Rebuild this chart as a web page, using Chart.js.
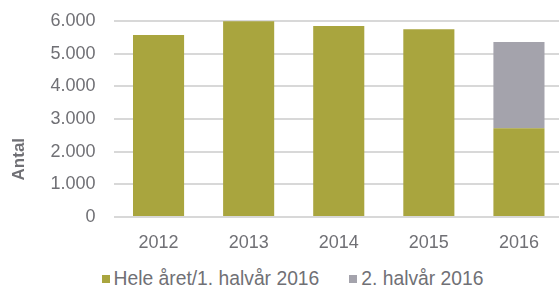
<!DOCTYPE html>
<html>
<head>
<meta charset="utf-8">
<script src="https://cdn.jsdelivr.net/npm/chart.js@4/dist/chart.umd.min.js"></script>
<style>
  html, body { margin: 0; padding: 0; background: #fff; overflow: hidden; }
  #wrap { width: 566px; height: 250px; }
  #legend {
    width: 559px;
    height: 39px;
    display: flex;
    justify-content: center;
    align-items: center;
    padding-left: 26px;
    padding-top: 18px;
    box-sizing: border-box;
    font-family: "Liberation Sans", sans-serif;
    font-size: 19.3px;
    color: #707075;
    line-height: 20px;
  }
  #legend .item { display: flex; align-items: center; margin: 0 15px; white-space: nowrap; }
  #legend .box { width: 8px; height: 8px; margin-right: 4px; }
</style>
</head>
<body>
<div id="wrap"><canvas id="chart"></canvas></div>
<div id="legend"></div>
<script>
// chart data
const years = ["2012", "2013", "2014", "2015", "2016"];
const firstPart = [5570, 5990, 5850, 5750, 2720];
const secondPart = [0, 0, 0, 0, 2640];
const yTickLabels = ["0", "1.000", "2.000", "3.000", "4.000", "5.000", "6.000"];
const seriesNames = ["Hele året/1. halvår 2016", "2. halvår 2016"];
const yTitle = "Antal";

const olive = "#a9a53e";
const grey = "#a4a3ac";
const textGrey = "#707075";
const fontFamily = "Liberation Sans";

// y title sits a bit below the axis middle in the original, so draw it by hand
const yTitlePlugin = {
  id: "yTitle",
  afterDraw(chart) {
    const c = chart.ctx;
    const area = chart.chartArea;
    c.save();
    c.translate(19, area.top + (area.bottom - area.top) * 0.705);
    c.rotate(-Math.PI / 2);
    c.fillStyle = textGrey;
    c.font = "bold 17px " + fontFamily;
    c.textAlign = "center";
    c.textBaseline = "middle";
    c.fillText(yTitle, 0, 0);
    c.restore();
  }
};

const ctx = document.getElementById("chart").getContext("2d");

const chart = new Chart(ctx, {
  type: "bar",
  data: {
    labels: years,
    datasets: [
      {
        label: seriesNames[0],
        data: firstPart,
        backgroundColor: olive,
        barPercentage: 0.567,
        categoryPercentage: 1.0
      },
      {
        label: seriesNames[1],
        data: secondPart,
        backgroundColor: grey,
        barPercentage: 0.567,
        categoryPercentage: 1.0
      }
    ]
  },
  plugins: [yTitlePlugin],
  options: {
    responsive: true,
    maintainAspectRatio: false,
    animation: false,
    layout: { padding: { top: 0, right: 2, bottom: 0, left: 0 } },
    plugins: {
      tooltip: { enabled: false },
      legend: { display: false }
    },
    scales: {
      x: {
        stacked: true,
        grid: { display: false },
        border: { display: false },
        ticks: {
          color: textGrey,
          font: { family: fontFamily, size: 18 },
          padding: 7
        },
        afterFit: (scale) => { scale.height = 33; }
      },
      y: {
        stacked: true,
        min: 0,
        max: 6000,
        grid: { color: "#d8d8d8", lineWidth: 2, drawTicks: false },
        border: { display: false },
        ticks: {
          stepSize: 1000,
          color: textGrey,
          font: { family: fontFamily, size: 18 },
          padding: 18,
          callback: (value) => yTickLabels[value / 1000]
        },
        afterFit: (scale) => {
          scale.width = 113.5;
          scale.paddingTop = 21;
          scale.paddingBottom = 0;
        }
      }
    }
  }
});

// HTML legend built from the datasets
const legendEl = document.getElementById("legend");
chart.data.datasets.forEach((ds) => {
  const item = document.createElement("span");
  item.className = "item";
  const box = document.createElement("span");
  box.className = "box";
  box.style.background = ds.backgroundColor;
  const text = document.createElement("span");
  text.textContent = ds.label;
  item.appendChild(box);
  item.appendChild(text);
  legendEl.appendChild(item);
});
</script>
</body>
</html>
